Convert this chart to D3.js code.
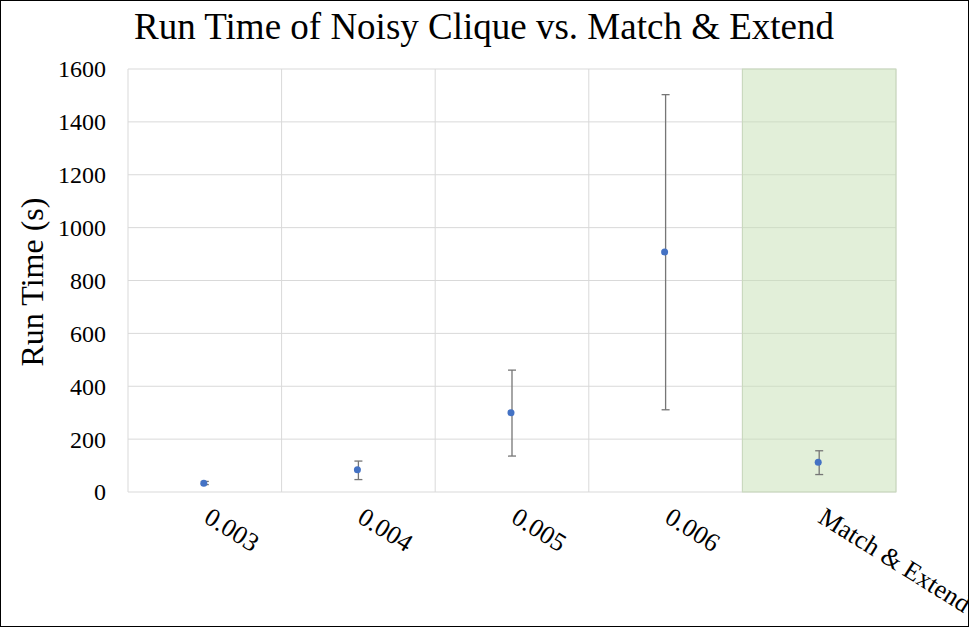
<!DOCTYPE html>
<html><head><meta charset="utf-8">
<script src="https://cdn.jsdelivr.net/npm/d3@7"></script>
<style>body{margin:0;background:#fff}svg{display:block}</style>
</head><body>
<script>
const categories = ["0.003","0.004","0.005","0.006","Match & Extend"];
const meanValues = [33, 84, 300, 908, 113];
const upperValues = [40, 117, 461, 1503, 156];
const lowerValues = [28, 47, 136, 311, 66];
const yTicks = [0,200,400,600,800,1000,1200,1400,1600];
const highlighted = ["Match & Extend"];

const W=969,H=627;
const m={left:128,right:73,top:69,bottom:135};
const svg=d3.select("body").append("svg").attr("width",W).attr("height",H);
svg.append("rect").attr("x",0.5).attr("y",0.5).attr("width",W-1).attr("height",H-1).attr("fill","#fff").attr("stroke","#000");
const x=d3.scaleBand().domain(categories).range([m.left,W-m.right]).padding(0);
const y=d3.scaleLinear().domain([0,1600]).range([H-m.bottom,m.top]);
const font="'Liberation Serif','Times New Roman',serif";

// gridlines
svg.append("g").selectAll("line").data(yTicks).join("line")
 .attr("x1",m.left).attr("x2",W-m.right).attr("y1",d=>y(d)).attr("y2",d=>y(d))
 .attr("stroke","#d9d9d9").attr("stroke-width",1);
const bounds=categories.map(c=>x(c)).concat([x(categories[categories.length-1])+x.bandwidth()]);
svg.append("g").selectAll("line").data(bounds).join("line")
 .attr("x1",d=>d).attr("x2",d=>d).attr("y1",y(0)).attr("y2",y(1600))
 .attr("stroke","#d9d9d9").attr("stroke-width",1);
// highlight
svg.append("g").selectAll("rect").data(highlighted).join("rect")
 .attr("x",d=>x(d)).attr("y",y(1600)).attr("width",x.bandwidth()).attr("height",y(0)-y(1600))
 .attr("fill","#c5e0b3").attr("fill-opacity",0.5).attr("stroke","#c9d9bd");

// y axis labels
svg.append("g").selectAll("text").data(yTicks).join("text")
 .attr("x",106).attr("y",d=>y(d)).attr("dy","0.35em").attr("text-anchor","end")
 .attr("font-family",font).attr("font-size",24).text(d=>d);
// x labels
svg.append("g").selectAll("text").data(categories).join("text")
 .attr("transform",d=>`translate(${x(d)+x.bandwidth()/2+8},${y(0)+13}) rotate(32)`)
 .attr("dy","0.75em").attr("font-family",font).attr("font-size",26).text(d=>d);

// error bars
const data=categories.map((c,i)=>({c,v:meanValues[i],hi:upperValues[i],lo:lowerValues[i]}));
const eg=svg.append("g").attr("stroke","#767676").attr("stroke-width",1.3);
data.forEach(d=>{
  const cx=x(d.c)+x.bandwidth()/2;
  eg.append("line").attr("x1",cx).attr("x2",cx).attr("y1",y(d.hi)).attr("y2",y(d.lo));
  eg.append("line").attr("x1",cx-4).attr("x2",cx+4).attr("y1",y(d.hi)).attr("y2",y(d.hi));
  eg.append("line").attr("x1",cx-4).attr("x2",cx+4).attr("y1",y(d.lo)).attr("y2",y(d.lo));
});
svg.append("g").selectAll("circle").data(data).join("circle")
 .attr("cx",d=>x(d.c)+x.bandwidth()/2-1).attr("cy",d=>y(d.v)).attr("r",3.5).attr("fill","#4472c4");

// titles
svg.append("text").attr("x",484).attr("y",39).attr("text-anchor","middle")
 .attr("font-family",font).attr("font-size",37).text("Run Time of Noisy Clique vs. Match & Extend");
svg.append("text").attr("transform",`translate(43,282) rotate(-90)`)
 .attr("text-anchor","middle").attr("font-family",font).attr("font-size",32).text("Run Time (s)");
</script>
</body></html>
